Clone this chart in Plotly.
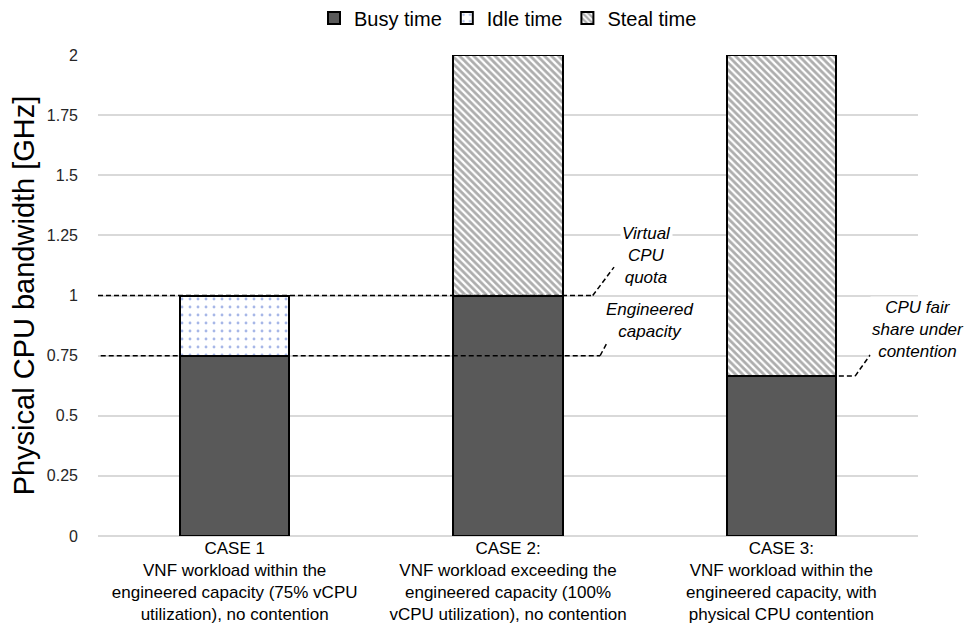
import plotly.graph_objects as go

# Chart data
categories = [
    "CASE 1<br>VNF workload within the<br>engineered capacity (75% vCPU<br>utilization), no contention",
    "CASE 2:<br>VNF workload exceeding the<br>engineered capacity (100%<br>vCPU utilization), no contention",
    "CASE 3:<br>VNF workload within the<br>engineered capacity, with<br>physical CPU contention",
]
busy = [0.75, 1.0, 0.665]
idle = [0.25, None, None]
steal = [None, 1.0, 1.335]

vcpu_quota = 1.0
engineered_capacity = 0.75
fair_share = 0.665

y_ticks = [0, 0.25, 0.5, 0.75, 1, 1.25, 1.5, 1.75, 2]
y_tick_text = ["0", "0.25", "0.5", "0.75", "1", "1.25", "1.5", "1.75", "2"]

FONT = "Liberation Sans, Arial, sans-serif"
outline = dict(color="black", width=2)

fig = go.Figure()
fig.add_trace(go.Bar(
    name="Busy time", x=categories, y=busy,
    marker=dict(color="#595959", line=outline),
))
fig.add_trace(go.Bar(
    name="Idle time", x=categories, y=idle,
    marker=dict(color="white", line=outline,
                pattern=dict(shape=".", fgcolor="#4f6fd0", bgcolor="white",
                             size=8, solidity=0.1)),
))
fig.add_trace(go.Bar(
    name="Steal time", x=categories, y=steal,
    marker=dict(color="white", line=outline,
                pattern=dict(shape="\\", fgcolor="#5c5c5c", bgcolor="white",
                             size=5, solidity=0.55)),
))

dash = dict(color="black", width=1.5, dash="5px,3px")
shapes = [
    # virtual CPU quota marker
    dict(type="line", xref="x", yref="y", x0=-0.5, x1=1.31, y0=vcpu_quota, y1=vcpu_quota, line=dash),
    dict(type="line", xref="x", yref="y", x0=1.31, x1=1.388, y0=vcpu_quota, y1=1.118, line=dash),
    # engineered capacity marker
    dict(type="line", xref="x", yref="y", x0=-0.49, x1=1.337, y0=engineered_capacity, y1=engineered_capacity, line=dash),
    dict(type="line", xref="x", yref="y", x0=1.337, x1=1.388, y0=engineered_capacity, y1=0.857, line=dash),
    # fair share under contention marker
    dict(type="line", xref="x", yref="y", x0=1.83, x1=2.27, y0=fair_share, y1=fair_share, line=dash),
    dict(type="line", xref="x", yref="y", x0=2.27, x1=2.325, y0=fair_share, y1=0.753, line=dash),
]

note_font = dict(family=FONT, size=17, color="black", style="italic")
annotations = [
    dict(x=1.505, y=1.168, xref="x", yref="y", text="Virtual<br>CPU<br>quota",
         showarrow=False, font=note_font, bgcolor="white", align="center"),
    dict(x=1.52, y=0.898, xref="x", yref="y", text="Engineered<br>capacity",
         showarrow=False, font=note_font, bgcolor="white", align="center"),
    dict(x=2.5, y=0.857, xref="x", yref="y", text="CPU fair<br>share under<br>contention",
         showarrow=False, font=note_font, bgcolor="white", align="center"),
]

fig.update_layout(
    width=971, height=632,
    margin=dict(l=98, r=53, t=55, b=96, autoexpand=False),
    barmode="stack", bargap=0.6,
    plot_bgcolor="white", paper_bgcolor="white",
    font=dict(family=FONT, color="#262626"),
    shapes=shapes, annotations=annotations,
    legend=dict(orientation="h", x=0.5, xanchor="center", y=1.077, yanchor="middle",
                font=dict(size=20, color="black"), itemwidth=30, traceorder="normal"),
    xaxis=dict(range=[-0.5, 2.5], autorange=False,
               tickfont=dict(size=17, color="black"), showline=False, ticks=""),
    yaxis=dict(range=[0, 2], tickvals=y_ticks, ticktext=y_tick_text,
               tickfont=dict(size=16, color="#262626"),
               gridcolor="#d9d9d9", gridwidth=1.5, zeroline=True,
               zerolinecolor="#d9d9d9", zerolinewidth=1.5, ticklabelstandoff=19,
               title=dict(text="Physical CPU bandwidth [GHz]",
                          font=dict(size=29, color="black"), standoff=3)),
)

fig.write_html("out.html")
